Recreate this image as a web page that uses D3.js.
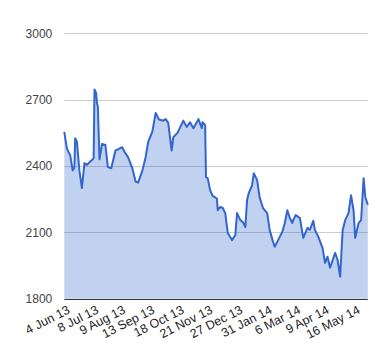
<!DOCTYPE html>
<html>
<head>
<meta charset="utf-8">
<script src="https://cdn.jsdelivr.net/npm/d3@7"></script>
<style>
  html, body { margin: 0; padding: 0; background: #fff; }
  svg { display: block; font-family: Arial, "Liberation Sans", sans-serif; }
</style>
</head>
<body>
<svg id="chart" width="380" height="360"></svg>
<script>
const dates = [
  "2013-06-04","2013-06-07","2013-06-08","2013-06-11","2013-06-14","2013-06-16","2013-06-17","2013-06-19",
  "2013-06-22","2013-06-25","2013-06-28","2013-07-01","2013-07-05","2013-07-07","2013-07-09","2013-07-10",
  "2013-07-12","2013-07-13","2013-07-14","2013-07-16","2013-07-19","2013-07-23","2013-07-26","2013-07-30",
  "2013-08-04","2013-08-07","2013-08-12","2013-08-15","2013-08-19","2013-08-24","2013-08-28","2013-08-31",
  "2013-09-05","2013-09-09","2013-09-12","2013-09-17","2013-09-21","2013-09-25","2013-09-30","2013-10-03",
  "2013-10-06","2013-10-10","2013-10-12","2013-10-17","2013-10-24","2013-10-28","2013-11-01","2013-11-05",
  "2013-11-11","2013-11-15","2013-11-16","2013-11-19","2013-11-20","2013-11-22","2013-11-25","2013-11-28",
  "2013-12-03","2013-12-04","2013-12-07","2013-12-10","2013-12-13","2013-12-16","2013-12-21","2013-12-25",
  "2013-12-27","2013-12-31","2014-01-03","2014-01-06","2014-01-08","2014-01-10","2014-01-14","2014-01-16",
  "2014-01-20","2014-01-23","2014-01-27","2014-02-01","2014-02-04","2014-02-08","2014-02-10","2014-02-14",
  "2014-02-19","2014-02-22","2014-02-25","2014-02-28","2014-03-03","2014-03-04","2014-03-07","2014-03-10",
  "2014-03-12","2014-03-16","2014-03-21","2014-03-24","2014-03-28","2014-03-30","2014-04-03","2014-04-08",
  "2014-04-11","2014-04-14","2014-04-17","2014-04-23","2014-04-26","2014-04-29","2014-05-02","2014-05-05",
  "2014-05-09","2014-05-12","2014-05-15","2014-05-17","2014-05-21","2014-05-24","2014-05-27","2014-05-29",
  "2014-06-01"
];
const values = [
  2554,2481,2472,2449,2380,2392,2526,2510,
  2380,2300,2413,2405,2420,2427,2436,2746,
  2729,2684,2668,2430,2500,2495,2395,2390,
  2470,2475,2485,2463,2440,2392,2330,2325,
  2378,2440,2508,2555,2640,2610,2605,2612,
  2595,2470,2530,2550,2605,2577,2598,2571,
  2612,2571,2598,2585,2350,2345,2290,2265,
  2253,2200,2215,2210,2187,2097,2065,2088,
  2187,2155,2147,2124,2246,2277,2313,2367,
  2336,2258,2210,2187,2110,2057,2035,2065,
  2102,2142,2200,2165,2142,2155,2178,2170,
  2165,2075,2120,2112,2152,2110,2080,2030,
  1962,1990,1940,2007,1975,1900,2110,2155,
  2187,2268,2200,2075,2142,2155,2345,2260,
  2225
];
const yTicks = [1800, 2100, 2400, 2700, 3000];
const xTickLabels = ["4 Jun 13","8 Jul 13","9 Aug 13","13 Sep 13","18 Oct 13","21 Nov 13","27 Dec 13","31 Jan 14","6 Mar 14","9 Apr 14","16 May 14"];
const xTickDates = ["2013-06-04","2013-07-08","2013-08-09","2013-09-13","2013-10-18","2013-11-21","2013-12-27","2014-01-31","2014-03-06","2014-04-09","2014-05-16"];

const parse = d3.utcParse("%Y-%m-%d");
const data = dates.map((d, i) => ({ date: parse(d), value: values[i] }));

const svg = d3.select("#chart");
const margin = { left: 64.3, right: 12.2, top: 33.3, bottom: 61.3 };
const W = 380, H = 360;

const x = d3.scaleUtc()
  .domain([parse(dates[0]), parse(dates[dates.length - 1])])
  .range([margin.left, W - margin.right]);
const y = d3.scaleLinear()
  .domain([1800, 3000])
  .range([H - margin.bottom, margin.top]);

// gridlines
svg.append("g")
  .selectAll("line")
  .data(yTicks.filter(t => t !== 1800))
  .join("line")
  .attr("x1", margin.left).attr("x2", W - margin.right)
  .attr("y1", d => Math.round(y(d)) + 0.5).attr("y2", d => Math.round(y(d)) + 0.5)
  .attr("stroke", "#cccccc").attr("stroke-width", 1);

// area
const area = d3.area()
  .x(d => x(d.date))
  .y0(y(1800))
  .y1(d => y(d.value));
svg.append("path")
  .datum(data)
  .attr("d", area)
  .attr("fill", "#3366cc")
  .attr("fill-opacity", 0.3);

// line
const line = d3.line()
  .x(d => x(d.date))
  .y(d => y(d.value));
svg.append("path")
  .datum(data)
  .attr("d", line)
  .attr("fill", "none")
  .attr("stroke", "#3366cc")
  .attr("stroke-width", 2)
  .attr("stroke-linejoin", "round");

// baseline
svg.append("line")
  .attr("x1", margin.left).attr("x2", W - margin.right)
  .attr("y1", Math.round(y(1800)) + 0.5).attr("y2", Math.round(y(1800)) + 0.5)
  .attr("stroke", "#333333").attr("stroke-width", 1);

// y axis labels
const yAxis = d3.axisLeft(y).tickValues(yTicks).tickSize(0).tickPadding(12).tickFormat(d3.format("d"));
const gy = svg.append("g").attr("transform", `translate(${margin.left},0)`).call(yAxis);
gy.select(".domain").remove();
gy.selectAll("text").attr("font-size", 12).attr("fill", "#444444").attr("font-family", "Arial, 'Liberation Sans', sans-serif");

// x axis labels
const xAxis = d3.axisBottom(x)
  .tickValues(xTickDates.map(parse))
  .tickSize(0)
  .tickFormat((d, i) => xTickLabels[i]);
const gx = svg.append("g").attr("transform", `translate(0,${H - margin.bottom})`).call(xAxis);
gx.select(".domain").remove();
gx.selectAll("text")
  .attr("font-size", 12.5)
  .attr("fill", "#222222")
  .attr("font-family", "Arial, 'Liberation Sans', sans-serif")
  .attr("text-anchor", "end")
  .attr("dy", "0.71em")
  .attr("y", 0)
  .attr("transform", "translate(2,6) rotate(-27)");
</script>
</body>
</html>
